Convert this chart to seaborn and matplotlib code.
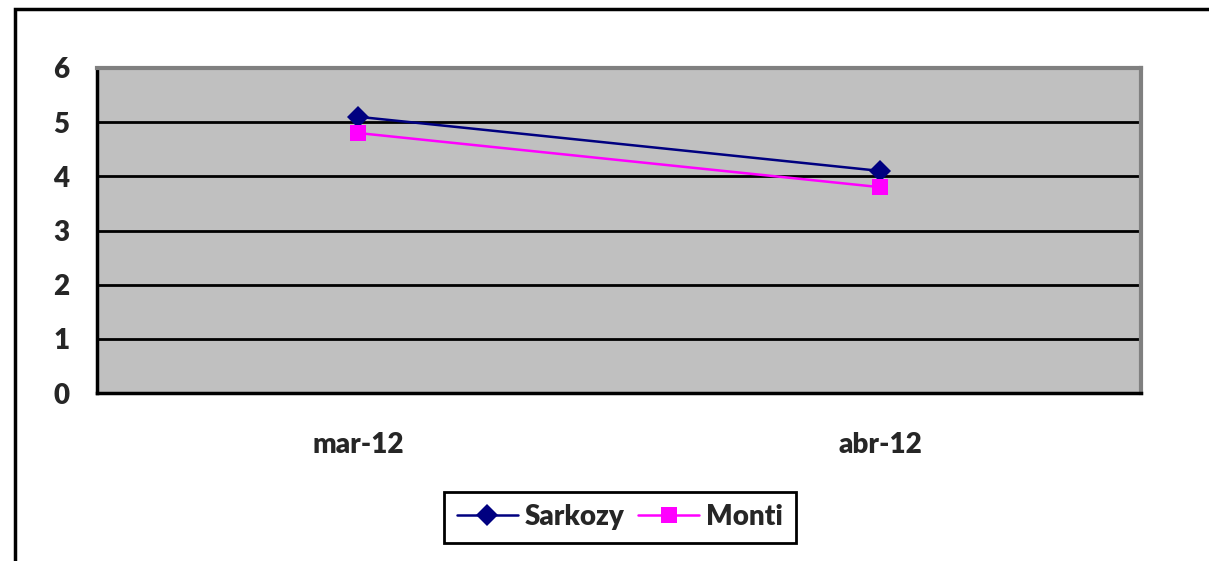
import matplotlib
matplotlib.use('Agg')
import matplotlib.pyplot as plt
import seaborn as sns
import pandas as pd
from matplotlib.patches import Rectangle

# === 1. Data ===
months = ['mar-12', 'abr-12']
sarkozy = [5.1, 4.1]
monti = [4.8, 3.8]
y_ticks = [0, 1, 2, 3, 4, 5, 6]

df = pd.DataFrame({
    'Mes': months * 2,
    'Valor': sarkozy + monti,
    'Serie': ['Sarkozy'] * len(months) + ['Monti'] * len(months),
})

# === 2. Style ===
sns.set_style('white')
plt.rcParams['font.family'] = ['Lato', 'DejaVu Sans']
plt.rcParams['font.weight'] = 'heavy'
W = 'heavy'

fig = plt.figure(figsize=(12.09, 5.61), dpi=100)
ax = fig.add_axes([97 / 1209, 1 - 393 / 561, (1141 - 97) / 1209, (393 - 68) / 561])
ax.set_facecolor('#C0C0C0')

# === 3. Lines ===
sns.lineplot(data=df, x='Mes', y='Valor', hue='Serie', style='Serie',
             palette={'Sarkozy': '#000080', 'Monti': '#FF00FF'},
             markers={'Sarkozy': 'D', 'Monti': 's'},
             dashes=False, linewidth=1.8, markersize=11,
             markeredgewidth=0, ax=ax, zorder=5)

# === 4. Axes ===
ax.set_xlim(-0.5, len(months) - 0.5)
ax.set_ylim(0, 6)
ax.set_yticks(y_ticks)
ax.set_yticklabels([str(v) for v in y_ticks], fontsize=20, fontweight=W)
ax.set_xticks([i - 0.5 for i in range(len(months) + 1)])
ax.set_xticklabels([])
ax.set_xticks(range(len(months)), minor=True)
ax.set_xticklabels(months, minor=True, fontsize=20, fontweight=W)
ax.tick_params(axis='x', which='major', direction='out', length=10, width=2, color='black')
ax.tick_params(axis='x', which='minor', length=0, pad=28)
ax.tick_params(axis='y', direction='out', length=10, width=2, color='black', pad=10)
ax.set_xlabel('')
ax.set_ylabel('')

for y in y_ticks[1:-1]:
    ax.axhline(y, color='black', linewidth=2, zorder=1)

ax.spines['left'].set_color('black')
ax.spines['left'].set_linewidth(2.5)
ax.spines['bottom'].set_color('black')
ax.spines['bottom'].set_linewidth(2.5)
ax.spines['top'].set_color('#808080')
ax.spines['top'].set_linewidth(3)
ax.spines['right'].set_color('#808080')
ax.spines['right'].set_linewidth(3)

# === 5. Legend ===
ax.get_legend().remove()
handles, labels = ax.get_legend_handles_labels()
leg = fig.legend(handles, labels, loc='center', bbox_to_anchor=(620 / 1209, 1 - 517 / 561),
                 ncol=2, frameon=True, fancybox=False, framealpha=1,
                 prop={'family': 'Lato', 'weight': W, 'size': 20},
                 handlelength=2.2, handletextpad=0.25, columnspacing=0.5,
                 borderpad=0.45, edgecolor='black')
leg.get_frame().set_linewidth(2)

# === 6. Outer frame ===
fig.add_artist(Rectangle((15 / 1209, -0.1), 1.2, 1.1 - 9 / 561, transform=fig.transFigure,
                         fill=False, edgecolor='black', linewidth=2.5, clip_on=False))

fig.savefig('out.png', dpi=100)
